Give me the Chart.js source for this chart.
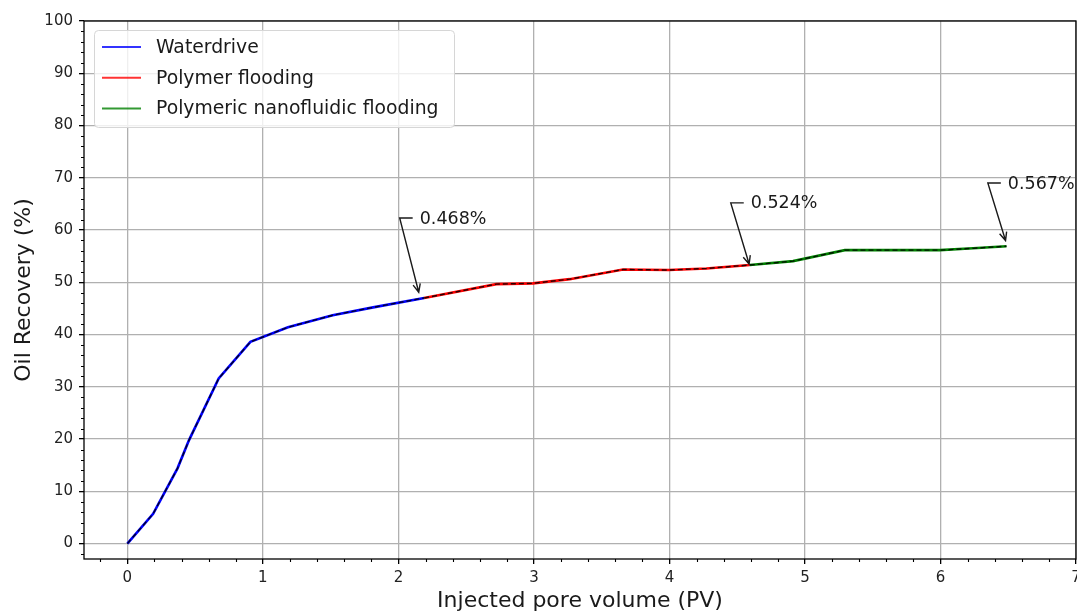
<!DOCTYPE html>
<html>
<head>
<meta charset="utf-8">
<script src="https://cdn.jsdelivr.net/npm/chart.js@4.4.0/dist/chart.umd.min.js"></script>
<style>
  html, body { margin: 0; padding: 0; background: #fff; }
  #wrap { width: 1077px; height: 614px; }
</style>
</head>
<body>
<div id="wrap"><canvas id="recovery-chart"></canvas></div>
<script>
const seriesLabels = ['Waterdrive', 'Polymer flooding', 'Polymeric nanofluidic flooding'];
const seriesColors = ['#0000ff', '#ff0000', '#008000'];

// values
const waterX = [0, 0.19, 0.37, 0.455, 0.674, 0.908, 1.185, 1.515, 1.813, 2.19];
const waterY = [0, 5.7, 14.4, 19.8, 31.6, 38.6, 41.4, 43.7, 45.2, 47.0];
const polyX = [2.19, 2.723, 2.993, 3.264, 3.658, 3.995, 4.273, 4.593];
const polyY = [47.0, 49.65, 49.8, 50.6, 52.45, 52.35, 52.65, 53.3];
const nanoX = [4.593, 4.912, 5.294, 5.995, 6.241, 6.487];
const nanoY = [53.3, 54.05, 56.15, 56.15, 56.5, 56.9];

const xTicks = [0, 1, 2, 3, 4, 5, 6, 7];
const yTicks = [0, 10, 20, 30, 40, 50, 60, 70, 80, 90, 100];

const annLabels = ['0.468%', '0.524%', '0.567%'];
const annTextX = [2.157, 4.600, 6.497];
const annTextY = [62.3, 65.2, 69.0];
const annTipX = [2.15, 4.588, 6.48];
const annTipY = [48.1, 53.5, 58.0];

const seriesX = [waterX, polyX, nanoX];
const seriesY = [waterY, polyY, nanoY];

function pts(xs, ys) {
  return xs.map((x, i) => ({ x: x, y: ys[i] }));
}

const datasets = [];
seriesLabels.forEach((label, i) => {
  datasets.push({
    label: label,
    data: pts(seriesX[i], seriesY[i]),
    borderColor: seriesColors[i],
    borderWidth: 2.6,
    pointRadius: 0,
    showLine: true,
    order: 1
  });
  datasets.push({
    label: label + ' (k--)',
    data: pts(seriesX[i], seriesY[i]),
    borderColor: 'rgba(0,0,0,0.85)',
    borderWidth: 1.4,
    borderDash: [5, 3],
    pointRadius: 0,
    showLine: true,
    order: 0
  });
});

const FONT = 'DejaVu Sans';

function noPad(s) {
  s.paddingLeft = 0;
  s.paddingRight = 0;
  s.paddingTop = 0;
  s.paddingBottom = 0;
}

const extras = {
  id: 'extras',
  afterDraw(chart) {
    const ctx = chart.ctx;
    const a = chart.chartArea;
    const xs = chart.scales.x, ys = chart.scales.y;
    ctx.save();

    // minor ticks
    ctx.strokeStyle = '#000';
    ctx.lineWidth = 1.1;
    ctx.beginPath();
    for (let k = -1; k <= 34; k++) {
      const v = k * 0.2;
      if (k % 5 === 0 || v < xs.min || v > xs.max) continue;
      const px = Math.round(xs.getPixelForValue(v)) + 0.5;
      ctx.moveTo(px, a.bottom);
      ctx.lineTo(px, a.bottom + 3);
    }
    for (let k = -1; k <= 50; k++) {
      const v = k * 2;
      if (k % 5 === 0 || v < ys.min || v > ys.max) continue;
      const py = Math.round(ys.getPixelForValue(v)) + 0.5;
      ctx.moveTo(a.left, py);
      ctx.lineTo(a.left - 3, py);
    }
    ctx.stroke();

    // spines
    ctx.lineWidth = 1.3;
    ctx.strokeStyle = '#000';
    ctx.strokeRect(a.left, a.top, a.right - a.left, a.bottom - a.top);

    // annotations
    ctx.strokeStyle = '#1a1a1a';
    ctx.fillStyle = '#1a1a1a';
    ctx.lineWidth = 1.4;
    ctx.font = '17.5px "' + FONT + '"';
    ctx.textAlign = 'left';
    ctx.textBaseline = 'middle';
    annLabels.forEach((t, i) => {
      const tx = xs.getPixelForValue(annTextX[i]);
      const ty = ys.getPixelForValue(annTextY[i]);
      const px = xs.getPixelForValue(annTipX[i]);
      const py = ys.getPixelForValue(annTipY[i]);
      const cx = tx - 20;
      ctx.beginPath();
      ctx.moveTo(tx - 7, ty);
      ctx.lineTo(cx, ty);
      ctx.lineTo(px, py);
      const ang = Math.atan2(py - ty, px - cx);
      ctx.moveTo(px - 9 * Math.cos(ang - 0.42), py - 9 * Math.sin(ang - 0.42));
      ctx.lineTo(px, py);
      ctx.lineTo(px - 9 * Math.cos(ang + 0.42), py - 9 * Math.sin(ang + 0.42));
      ctx.stroke();
      ctx.fillText(t, tx, ty + 1);
    });

    // legend
    const lx = 94.5, ly = 30.5, lw = 360, lh = 97, r = 4;
    ctx.beginPath();
    ctx.moveTo(lx + r, ly);
    ctx.arcTo(lx + lw, ly, lx + lw, ly + lh, r);
    ctx.arcTo(lx + lw, ly + lh, lx, ly + lh, r);
    ctx.arcTo(lx, ly + lh, lx, ly, r);
    ctx.arcTo(lx, ly, lx + lw, ly, r);
    ctx.closePath();
    ctx.fillStyle = 'rgba(255,255,255,0.8)';
    ctx.fill();
    ctx.strokeStyle = '#d6d6d6';
    ctx.lineWidth = 1;
    ctx.stroke();
    ctx.font = '18.8px "' + FONT + '"';
    seriesLabels.forEach((label, i) => {
      const yy = 47 + i * 30.8;
      ctx.strokeStyle = seriesColors[i];
      ctx.globalAlpha = 0.8;
      ctx.lineWidth = 2;
      ctx.beginPath();
      ctx.moveTo(102, yy);
      ctx.lineTo(141, yy);
      ctx.stroke();
      ctx.globalAlpha = 1;
      ctx.fillStyle = '#1a1a1a';
      ctx.fillText(label, 156, yy + 1);
    });

    ctx.restore();
  }
};

new Chart(document.getElementById('recovery-chart'), {
  type: 'scatter',
  data: { datasets: datasets },
  options: {
    responsive: true,
    maintainAspectRatio: false,
    animation: false,
    devicePixelRatio: 1,
    layout: { autoPadding: false, padding: { top: 21, right: 1, left: 0, bottom: 0 } },
    plugins: { legend: { display: false }, tooltip: { enabled: false } },
    scales: {
      x: {
        type: 'linear',
        min: -0.32,
        max: 7,
        afterBuildTicks: (s) => { s.ticks = xTicks.map(v => ({ value: v })); },
        afterFit: (s) => { s.height = 55; noPad(s); },
        grid: { color: '#b0b0b0', lineWidth: 1.3, tickColor: '#000', tickLength: 5, tickWidth: 1.3 },
        border: { display: false },
        ticks: {
          autoSkip: false, maxRotation: 0, padding: 5,
          color: '#222', font: { family: FONT, size: 15 },
          callback: (v) => String(v)
        },
        title: {
          display: true, text: 'Injected pore volume (PV)', color: '#1a1a1a',
          font: { family: FONT, size: 22, lineHeight: 1.2 }, padding: { top: 0, bottom: 0 }
        }
      },
      y: {
        type: 'linear',
        min: -2.95,
        max: 100,
        afterBuildTicks: (s) => { s.ticks = yTicks.map(v => ({ value: v })); },
        afterFit: (s) => { s.width = 84; noPad(s); },
        grid: { color: '#b0b0b0', lineWidth: 1.3, tickColor: '#000', tickLength: 5, tickWidth: 1.3 },
        border: { display: false },
        ticks: {
          autoSkip: false, padding: 6,
          color: '#222', font: { family: FONT, size: 15 },
          callback: (v) => String(v)
        },
        title: {
          display: true, text: 'Oil Recovery (%)', color: '#1a1a1a',
          font: { family: FONT, size: 22, lineHeight: 1.2 }, padding: { top: 11, bottom: 0 }
        }
      }
    }
  },
  plugins: [extras]
});
</script>
</body>
</html>
